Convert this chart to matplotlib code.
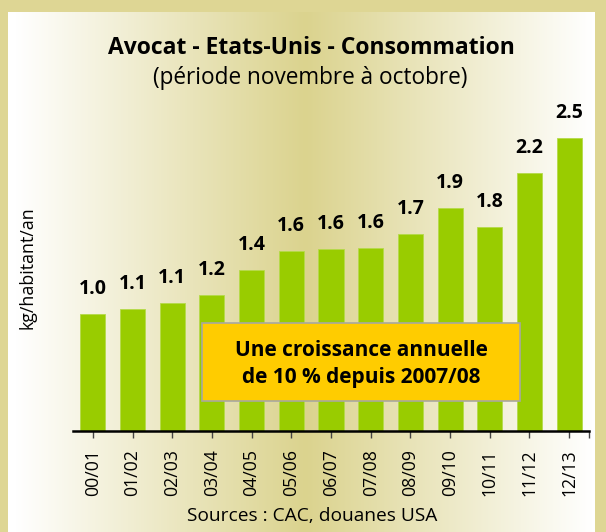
import numpy as np
import matplotlib
matplotlib.use('Agg')
import matplotlib.pyplot as plt
from matplotlib.patches import Rectangle

plt.rcParams['font.family'] = ['Open Sans', 'DejaVu Sans']

# data
seasons = ['00/01', '01/02', '02/03', '03/04', '04/05', '05/06', '06/07',
           '07/08', '08/09', '09/10', '10/11', '11/12', '12/13']
consumption = [1.0, 1.04, 1.09, 1.16, 1.37, 1.54, 1.55, 1.56, 1.68, 1.9, 1.74, 2.2, 2.5]
value_labels = ['1.0', '1.1', '1.1', '1.2', '1.4', '1.6', '1.6', '1.6', '1.7', '1.9', '1.8', '2.2', '2.5']

W, H = 606, 532
border = '#DED694'
peak = np.array([219, 211, 142]) / 255.0
bar_green = '#99CC00'

fig = plt.figure(figsize=(W / 100, H / 100), dpi=100, facecolor=border)

# background panel with horizontal gradient
bg = fig.add_axes([8 / W, 0, (595 - 8) / W, 1 - 12 / H])
xs = np.arange(8, 595)
t = np.where(xs < 305, (xs - 15) / (305 - 15), (592 - xs) / (592 - 305))
t = np.clip(t, 0, 1)
grad = (1 - t[:, None]) * np.ones(3) + t[:, None] * peak
bg.imshow(grad[None, :, :], aspect='auto', extent=[0, 1, 0, 1])
bg.set_axis_off()

# main chart
ax = fig.add_axes([73 / W, 101 / H, (589 - 73) / W, 351.6 / H])
ax.patch.set_alpha(0)
x = np.arange(len(seasons))
bars = ax.bar(x, consumption, width=0.63, color=bar_green, edgecolor='#B5DA4A', linewidth=0.6)
ax.set_xlim(-0.5, 12.5)
ax.set_ylim(0, 3.0)

for xi, v, lab in zip(x, consumption, value_labels):
    ax.annotate(lab, xy=(xi, v), xytext=(0, 18), textcoords='offset points',
                ha='center', va='center', fontsize=14, fontweight='bold')

for s in ['top', 'right', 'left']:
    ax.spines[s].set_visible(False)
ax.spines['bottom'].set_linewidth(1.8)
ax.set_yticks([])
ax.set_xticks(x)
ax.set_xticklabels(seasons, rotation=90, fontsize=12.7)
ax.set_xticks([12.5], minor=True)
ax.tick_params(axis='x', which='both', direction='out', length=5, width=1,
               color='#444444', pad=8)

# titles and texts
fig.text(311 / W, 1 - 48 / H, 'Avocat - Etats-Unis - Consommation', ha='center', va='center',
         fontsize=16.5, fontweight='bold')
fig.text(310 / W, 1 - 78 / H, '(période novembre à octobre)', ha='center', va='center', fontsize=16.3)
fig.text(27 / W, 1 - 268 / H, 'kg/habitant/an', rotation=90, ha='center', va='center', fontsize=12.8)
fig.text(312 / W, 1 - 516 / H, 'Sources : CAC, douanes USA', ha='center', va='center', fontsize=13.8)

# highlight box
fig.patches.append(Rectangle((202 / W, 1 - 401 / H), (520 - 202) / W, 78 / H,
                             transform=fig.transFigure, facecolor='#FFCC00',
                             edgecolor='#A8A8A0', linewidth=1.2, zorder=5))
fig.text(361 / W, 1 - 350 / H, 'Une croissance annuelle', ha='center', va='center',
         fontsize=15, fontweight='bold', zorder=6)
fig.text(361 / W, 1 - 378 / H, 'de 10 % depuis 2007/08', ha='center', va='center',
         fontsize=15, fontweight='bold', zorder=6)

fig.savefig('out.png', dpi=100, facecolor=border)
